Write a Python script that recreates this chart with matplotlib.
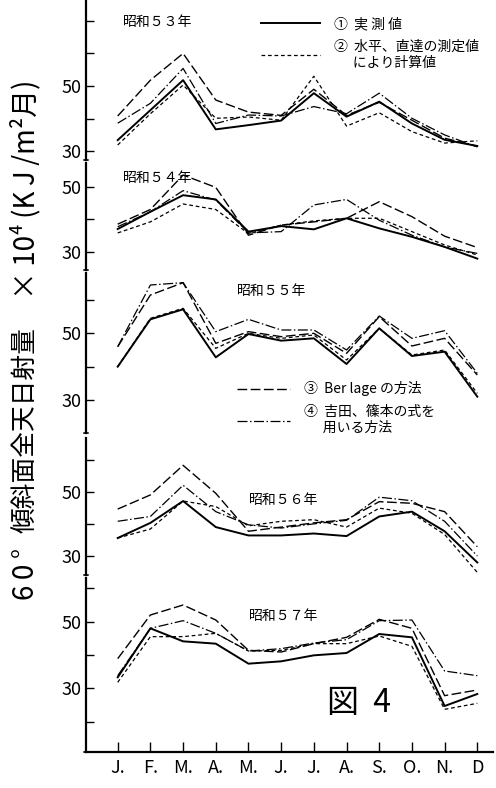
import matplotlib
matplotlib.use('Agg')
import matplotlib.pyplot as plt

plt.rcParams['font.family'] = ['Noto Sans CJK JP', 'DejaVu Sans']

# 月
months = [1, 2, 3, 4, 5, 6, 7, 8, 9, 10, 11, 12]
month_labels = ['J.', 'F.', 'M.', 'A.', 'M.', 'J.', 'J.', 'A.', 'S.', 'O.', 'N.', 'D']

years = ['昭和５３年', '昭和５４年', '昭和５５年', '昭和５６年', '昭和５７年']

# ① 実測値
s53_1 = [33.4, 42.6, 51.8, 36.7, 38.0, 39.4, 47.8, 40.6, 45.2, 38.5, 33.5, 31.6]
s54_1 = [37.0, 42.3, 47.4, 46.1, 36.2, 37.9, 36.9, 40.3, 37.2, 34.6, 31.5, 27.9]
s55_1 = [40.0, 54.2, 57.2, 42.8, 49.8, 47.8, 48.5, 40.8, 51.5, 43.2, 44.5, 31.0]
s56_1 = [35.6, 40.3, 47.1, 39.0, 36.4, 36.4, 37.0, 36.2, 42.3, 43.8, 37.7, 28.0]
s57_1 = [33.3, 48.0, 44.1, 43.4, 37.4, 38.1, 39.9, 40.6, 46.3, 45.3, 24.7, 28.3]

# ② 水平、直達の測定値により計算値
s53_2 = [31.9, 41.5, 50.3, 40.1, 40.5, 39.5, 53.0, 37.7, 41.8, 36.0, 32.5, 33.2]
s54_2 = [35.8, 39.2, 44.7, 43.0, 35.6, 38.2, 39.5, 40.3, 40.3, 36.2, 32.1, 29.0]
s55_2 = [40.0, 54.5, 57.5, 45.5, 50.0, 48.5, 49.5, 42.0, 51.5, 43.5, 45.0, 32.0]
s56_2 = [35.6, 38.4, 47.1, 45.4, 39.4, 40.8, 41.3, 39.0, 44.9, 43.3, 36.7, 24.9]
s57_2 = [31.8, 45.5, 45.5, 46.5, 41.2, 41.4, 43.4, 43.4, 45.7, 42.6, 23.7, 25.5]

# ③ Berlage の方法
s53_3 = [40.8, 51.8, 60.0, 45.7, 42.0, 41.0, 49.0, 41.0, 45.0, 39.5, 34.0, 31.5]
s54_3 = [38.5, 43.0, 53.6, 49.8, 35.1, 38.2, 39.2, 40.3, 45.4, 40.8, 34.8, 31.3]
s55_3 = [46.0, 61.5, 65.2, 47.0, 50.5, 49.0, 50.0, 44.0, 55.0, 46.2, 48.5, 37.5]
s56_3 = [44.6, 49.0, 58.2, 49.5, 37.7, 39.0, 40.3, 41.3, 46.9, 46.4, 43.8, 32.9]
s57_3 = [38.9, 52.0, 55.0, 50.5, 41.4, 40.9, 43.4, 45.3, 50.7, 48.0, 27.8, 29.5]

# ④ 吉田、篠本の式を用いる方法
s53_4 = [38.6, 44.7, 55.4, 38.5, 41.1, 40.8, 43.7, 41.5, 47.8, 40.1, 35.0, 31.3]
s54_4 = [37.7, 42.3, 48.8, 45.9, 35.8, 36.2, 44.4, 46.1, 39.7, 35.1, 31.5, 29.5]
s55_4 = [46.0, 64.5, 65.2, 50.5, 54.2, 51.0, 51.0, 45.0, 55.2, 48.5, 50.8, 38.0]
s56_4 = [40.8, 42.3, 52.0, 43.8, 39.7, 38.7, 40.0, 41.1, 48.3, 47.2, 40.8, 30.0]
s57_4 = [33.8, 48.0, 50.3, 46.5, 41.2, 41.9, 43.6, 44.6, 50.3, 50.5, 35.2, 33.8]

series_1 = [s53_1, s54_1, s55_1, s56_1, s57_1]
series_2 = [s53_2, s54_2, s55_2, s56_2, s57_2]
series_3 = [s53_3, s54_3, s55_3, s56_3, s57_3]
series_4 = [s53_4, s54_4, s55_4, s56_4, s57_4]

W, H = 496, 788
fig = plt.figure(figsize=(W / 100, H / 100), dpi=100)

# パネル位置 (ピクセル: 上端, 下端) と y 範囲
panel_px = [(0, 160), (163, 270), (273, 433), (438, 575), (578, 752)]
panel_ylim = [(27.3, 76.4), (24.4, 57.3), (20.1, 68.1), (24.1, 66.7), (10.9, 63.1)]
panel_ticks = [[30, 40, 50, 60, 70], [30, 40, 50], [30, 40, 50, 60],
               [30, 40, 50, 60], [20, 30, 40, 50, 60]]

left_px, right_px = 86, 493
ls2 = (0, (3, 2.2))
ls3 = (0, (7, 2.5))
ls4 = (0, (8, 2, 1.2, 2))

axes = []
for i in range(5):
    top, bot = panel_px[i]
    ax = fig.add_axes([left_px / W, 1 - bot / H, (right_px - left_px) / W, (bot - top) / H])
    ax.patch.set_alpha(0)
    ax.set_xlim(0.03, 12.48)
    ax.set_ylim(*panel_ylim[i])
    for sp in ['top', 'right']:
        ax.spines[sp].set_visible(False)
    ax.spines['left'].set_linewidth(1.6)
    ax.set_yticks(panel_ticks[i])
    ax.set_yticklabels(['50' if t == 50 else '30' if t == 30 else '' for t in panel_ticks[i]])
    ax.tick_params(axis='y', direction='in', length=6, width=1, labelsize=13, pad=3)

    l1, = ax.plot(months, series_1[i], color='black', lw=1.4, ls='-')
    l2, = ax.plot(months, series_2[i], color='black', lw=0.9, ls=ls2)
    l3, = ax.plot(months, series_3[i], color='black', lw=1.0, ls=ls3)
    l4, = ax.plot(months, series_4[i], color='black', lw=0.9, ls=ls4)

    # 軸の切れ目
    ax.annotate('', xy=(-0.012, 0.0), xytext=(0.012, 0.0), xycoords='axes fraction',
                arrowprops=dict(arrowstyle='-', lw=1.2, color='black'))

    if i < 4:
        ax.spines['bottom'].set_visible(False)
        ax.set_xticks([])
    else:
        ax.spines['bottom'].set_linewidth(1.6)
        ax.set_xticks(months)
        ax.set_xticklabels(month_labels)
        ax.tick_params(axis='x', direction='in', length=7, width=1, labelsize=13, pad=5)
    axes.append((ax, l1, l2, l3, l4))

# 年の表示
year_pos = [(0.09, 0.86), (0.09, 0.86), (0.37, 0.89), (0.40, 0.55), (0.40, 0.78)]
for i, (ax, *_) in enumerate(axes):
    ax.text(year_pos[i][0], year_pos[i][1], years[i], transform=ax.transAxes,
            fontsize=10, ha='left', va='center')

# 凡例
ax1, l1, l2, _, _ = axes[0]
ax1.legend([l1, l2], ['①  実 測 値', '②  水平、直達の測定値\n      により計算値'],
           loc='upper left', bbox_to_anchor=(0.40, 0.97), frameon=False,
           fontsize=10, handlelength=4.2, handletextpad=1.0, labelspacing=0.6)

ax3, _, _, l3, l4 = axes[2]
ax3.legend([l3, l4], ['③  Ber lage の方法', '④  吉田、篠本の式を\n      用いる方法'],
           loc='upper left', bbox_to_anchor=(0.34, 0.40), frameon=False,
           fontsize=10, handlelength=3.8, handletextpad=1.0, labelspacing=0.6)

# 図 4
ax5 = axes[4][0]
ax5.text(0.67, 0.28, '図  4', transform=ax5.transAxes, fontsize=23, ha='center', va='center')

# y 軸ラベル (三つに分けて配置)
ts = '\u2009'
fig.text(26 / W, 1 - 600 / H, '6' + ts + '0' + ts + '°', rotation=90, fontsize=20,
         ha='center', va='bottom')
fig.text(26 / W, 1 - 327 / H, '傾斜面全天日射量', rotation=90, fontsize=18.5, ha='center', va='top')
fig.text(26 / W, 1 - 80 / H, '×' + ts + '10⁴' + ts + '(K' + ts + 'J' + ts + '/m²月)',
         rotation=90, fontsize=20, ha='center', va='top')

fig.savefig('out.png', dpi=100)
